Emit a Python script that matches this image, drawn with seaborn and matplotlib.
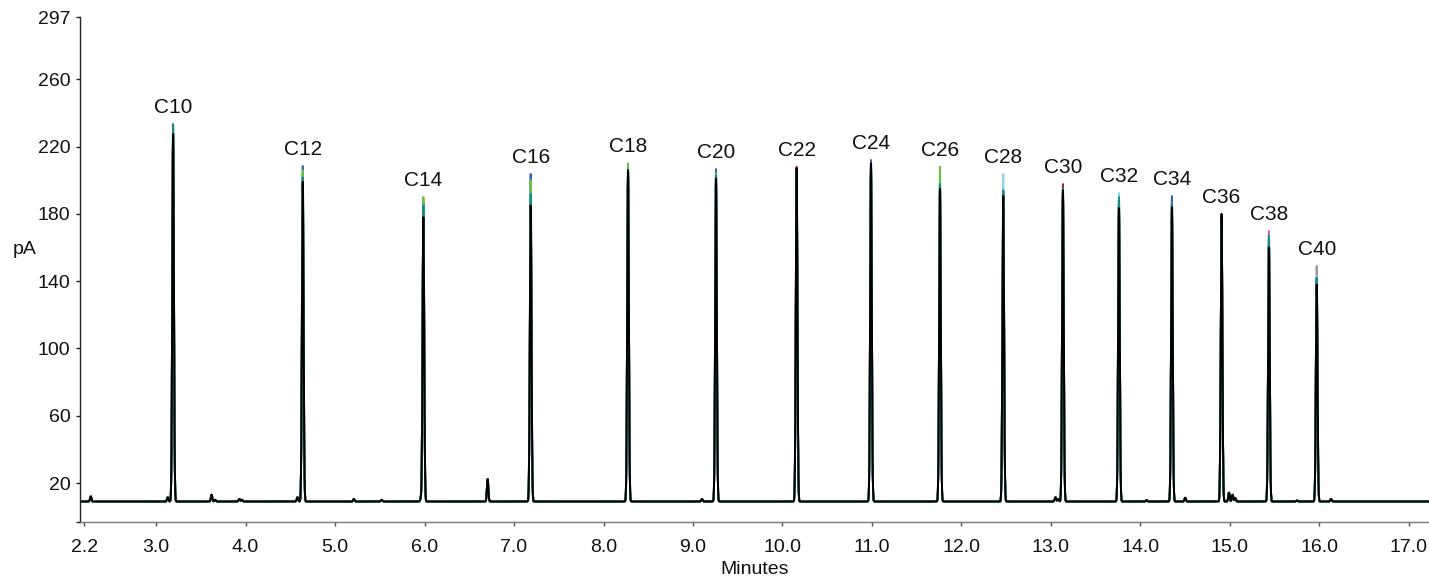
import numpy as np
import pandas as pd
import matplotlib
matplotlib.use("Agg")
import matplotlib.pyplot as plt
import seaborn as sns

# ---------------- data ----------------
peak_names = ["C10", "C12", "C14", "C16", "C18", "C20", "C22", "C24",
              "C26", "C28", "C30", "C32", "C34", "C36", "C38", "C40"]
peak_times = [3.19, 4.639, 5.987, 7.186, 8.274, 9.257, 10.158, 10.989,
              11.76, 12.467, 13.134, 13.76, 14.352, 14.907, 15.436, 15.97]

# apex height (pA) of each main peak, per overlaid run
h_grey      = [226.0, 197.0, 176.0, 184.0, 204.0, 199.0, 205.0, 208.0, 193.0, 195.0, 192.0, 182.0, 182.0, 177.0, 161.0, 149.0]
h_pink      = [224.0, 196.0, 175.0, 183.0, 203.0, 198.0, 204.0, 207.0, 192.0, 189.0, 191.0, 181.0, 181.0, 176.0, 169.8, 137.0]
h_lightblue = [229.0, 200.0, 182.0, 188.0, 207.0, 202.0, 205.0, 209.0, 196.0, 203.7, 194.0, 192.4, 184.0, 179.0, 166.0, 143.0]
h_red       = [228.0, 198.0, 180.0, 186.0, 205.0, 200.0, 208.0, 209.0, 194.0, 191.0, 197.7, 185.0, 183.0, 178.0, 162.0, 140.0]
h_blue      = [230.0, 208.4, 187.0, 203.7, 205.0, 206.6, 206.0, 212.0, 196.0, 193.0, 192.0, 187.0, 190.6, 178.0, 163.0, 142.0]
h_green     = [231.0, 206.0, 190.0, 200.0, 210.0, 204.0, 206.0, 209.0, 208.0, 192.0, 193.0, 188.0, 186.5, 177.0, 165.0, 140.0]
h_teal      = [233.4, 201.6, 185.0, 191.8, 204.0, 203.0, 205.0, 208.0, 197.7, 194.0, 195.0, 190.0, 186.0, 178.0, 167.0, 141.0]
h_black     = [227.4, 199.0, 178.0, 185.0, 206.0, 201.0, 207.0, 210.0, 194.8, 190.6, 194.0, 183.4, 184.0, 180.0, 160.0, 138.0]

# small impurity peaks (shared by all runs): time (min), apex (pA)
minor_times   = [2.27, 3.13, 3.62, 3.66, 3.93, 3.96, 4.58, 5.21, 5.52, 5.96, 6.705,
                 9.10, 13.05, 13.08, 14.07, 14.50, 14.99, 15.03, 15.06, 15.75, 16.13]
minor_heights = [12.0, 11.5, 13.0, 10.0, 10.5, 10.0, 11.5, 10.5, 10.0, 11.0, 22.3,
                 10.5, 11.5, 10.5, 9.8, 11.2, 14.2, 13.0, 11.0, 9.6, 10.5]

baseline_pA = 9.0
peak_sigma = 0.009   # min
minor_sigma = 0.008

series_names  = ["grey", "pink", "lightblue", "red", "blue", "green", "teal", "black"]
series_heights = [h_grey, h_pink, h_lightblue, h_red, h_blue, h_green, h_teal, h_black]
series_colors = {"grey": "#9a9a9a", "pink": "#c864c8", "lightblue": "#8fd3e6",
                 "red": "#a3262a", "blue": "#3d5fb5", "green": "#6abf45",
                 "teal": "#17898c", "black": "#000000"}

x_ticks = [2.2, 3.0, 4.0, 5.0, 6.0, 7.0, 8.0, 9.0, 10.0, 11.0, 12.0, 13.0, 14.0, 15.0, 16.0, 17.0]
y_ticks = [20, 60, 100, 140, 180, 220, 260, 297]

# ---------------- build traces ----------------
t = np.round(np.arange(2.15, 17.225, 0.001), 4)
t = np.unique(np.concatenate([t, peak_times, minor_times]))

frames = []
for name, heights in zip(series_names, series_heights):
    y = np.full_like(t, baseline_pA)
    for rt, h in zip(peak_times, heights):
        y += (h - baseline_pA) * np.exp(-0.5 * ((t - rt) / peak_sigma) ** 2)
    for rt, h in zip(minor_times, minor_heights):
        y += (h - baseline_pA) * np.exp(-0.5 * ((t - rt) / minor_sigma) ** 2)
    frames.append(pd.DataFrame({"Minutes": t, "pA": y, "run": name}))
df = pd.concat(frames, ignore_index=True)

# ---------------- plot ----------------
sns.set_theme(style="white")
plt.rcParams["font.family"] = ["Liberation Sans", "DejaVu Sans"]

fig = plt.figure(figsize=(14.29, 5.81), dpi=100)
ax = fig.add_axes([0.056, 0.1015, 0.944, 0.8692])

sns.lineplot(data=df, x="Minutes", y="pA", hue="run", hue_order=series_names,
             palette=series_colors, estimator=None, sort=False, legend=False,
             linewidth=1.4, ax=ax)

y_low = -3.2
ax.set_xlim(2.15, 17.225)
ax.set_ylim(y_low, 297)

ax.set_xticks(x_ticks)
ax.set_xticklabels([f"{v:.1f}" for v in x_ticks])
ax.set_yticks([y_low] + y_ticks)
ax.set_yticklabels([""] + [str(v) for v in y_ticks])

for spine in ["top", "right"]:
    ax.spines[spine].set_visible(False)
ax.spines["left"].set_color("#222222")
ax.spines["bottom"].set_color("#777777")
ax.spines["left"].set_linewidth(1.0)
ax.spines["bottom"].set_linewidth(1.0)

ax.tick_params(axis="x", direction="out", length=3, width=1, color="#555555",
               pad=9, labelsize=14, labelcolor="#111111", bottom=True)
ax.tick_params(axis="y", direction="out", length=3, width=1, color="#222222",
               pad=4, labelsize=14, labelcolor="#111111", left=True)

ax.set_xlabel("Minutes", fontsize=14, color="#111111", labelpad=4)
ax.set_ylabel("pA", fontsize=14, color="#111111", rotation=0, va="center", ha="center")
ax.yaxis.set_label_coords(-0.041, 0.539)

# peak labels above the tallest run at each peak
all_h = np.array(series_heights)
for name, rt, top in zip(peak_names, peak_times, all_h.max(axis=0)):
    ax.annotate(name, xy=(rt, top), xytext=(0, 5), textcoords="offset points",
                ha="center", va="bottom", fontsize=15, color="#111111")

fig.savefig("out.png", dpi=100)
